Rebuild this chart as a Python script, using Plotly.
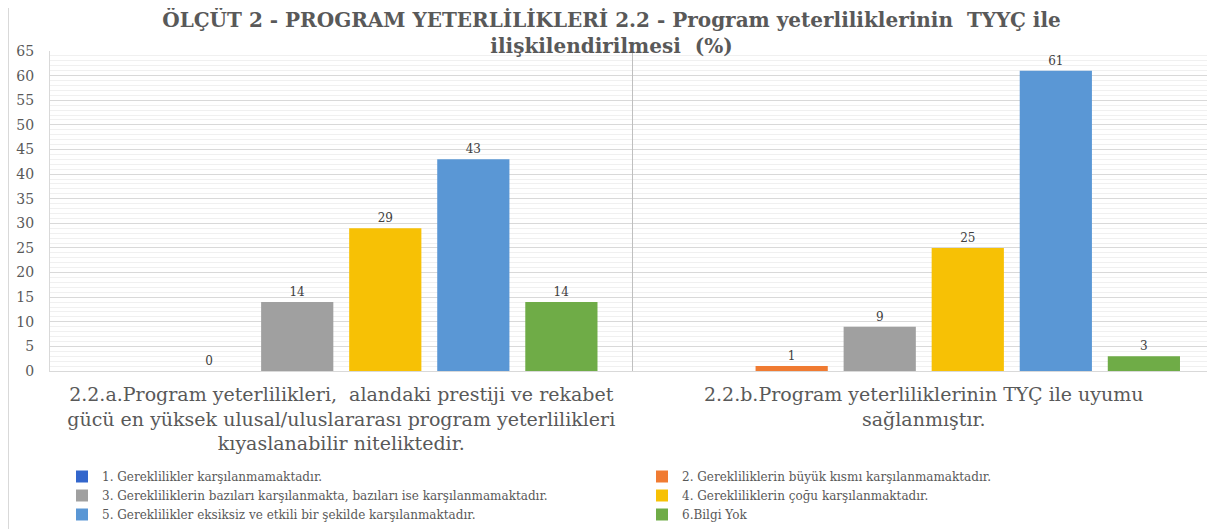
import plotly.graph_objects as go

categories = [
    "2.2.a.Program yeterlilikleri,  alandaki prestiji ve rekabet<br>gücü en yüksek ulusal/uluslararası program yeterlilikleri<br>kıyaslanabilir niteliktedir.",
    "2.2.b.Program yeterliliklerinin TYÇ ile uyumu<br>sağlanmıştır.",
]
series_names = [
    "1. Gereklilikler karşılanmamaktadır.",
    "2. Gerekliliklerin büyük kısmı karşılanmamaktadır.",
    "3. Gerekliliklerin bazıları karşılanmakta, bazıları ise karşılanmamaktadır.",
    "4. Gerekliliklerin çoğu karşılanmaktadır.",
    "5. Gereklilikler eksiksiz ve etkili bir şekilde karşılanmaktadır.",
    "6.Bilgi Yok",
]
s1 = [None, None]
s2 = [0, 1]
s3 = [14, 9]
s4 = [29, 25]
s5 = [43, 61]
s6 = [14, 3]
series_values = [s1, s2, s3, s4, s5, s6]
colors = ["#3366CC", "#F07B32", "#A0A0A0", "#F7C105", "#5A97D5", "#6FAC47"]
legend_ids = ["legend", "legend2", "legend", "legend2", "legend", "legend2"]

FONT = "DejaVu Serif"
GRAY = "#595959"
W, H = 1207, 521  # page body adds an 8px offset

fig = go.Figure()
for name, vals, col, lg in zip(series_names, series_values, colors, legend_ids):
    fig.add_trace(go.Bar(
        x=categories, y=vals, name=name,
        marker=dict(color=col, line=dict(width=0)),
        text=[None if v is None else str(v) for v in vals],
        textposition="outside", cliponaxis=False,
        textfont=dict(family=FONT, size=12, color="#404040"),
        legend=lg,
    ))

fig.update_layout(
    width=W, height=H,
    margin=dict(l=42, r=0, t=43, b=158, autoexpand=False),
    paper_bgcolor="white", plot_bgcolor="white",
    barmode="group", bargap=0.093, bargroupgap=0.18,
    font=dict(family=FONT, color=GRAY),
    title=dict(
        text="ÖLÇÜT 2 - PROGRAM YETERLİLİKLERİ 2.2 - Program yeterliliklerinin  TYYÇ ile<br>ilişkilendirilmesi  (%)",
        x=0.5, xanchor="center", y=1 - 19 / H, yanchor="top",
        font=dict(family=FONT, size=20, color=GRAY, weight="bold"),
    ),
    xaxis=dict(
        showgrid=False, showline=True, linecolor="#D9D9D9", linewidth=1,
        tickfont=dict(family=FONT, size=19, color=GRAY),
        tickangle=0, automargin=False,
        ticklabelstandoff=6,
    ),
    yaxis=dict(
        range=[0, 65], dtick=5, showgrid=True, gridcolor="#D9D9D9", gridwidth=1,
        minor=dict(dtick=1, showgrid=True, gridcolor="#F0F0F0", gridwidth=1),
        showline=True, linecolor="#D9D9D9", linewidth=1,
        tickfont=dict(family=FONT, size=14, color=GRAY),
        ticklabelstandoff=12, zeroline=False, automargin=False,
    ),
    legend=dict(
        orientation="v", xref="container", yref="container",
        x=54 / W, y=1 - 454 / H, xanchor="left", yanchor="top",
        font=dict(family=FONT, size=12, color=GRAY), itemwidth=30,
        bgcolor="rgba(0,0,0,0)", tracegroupgap=0,
    ),
    legend2=dict(
        orientation="v", xref="container", yref="container",
        x=634 / W, y=1 - 454 / H, xanchor="left", yanchor="top",
        font=dict(family=FONT, size=12, color=GRAY), itemwidth=30,
        bgcolor="rgba(0,0,0,0)", tracegroupgap=0,
    ),
    showlegend=True,
)

# category divider
fig.add_shape(type="line", xref="x", yref="paper", x0=0.5, x1=0.5, y0=0, y1=1,
              line=dict(color="#BFBFBF", width=1))
# chart area left border
fig.add_shape(type="line", xref="paper", yref="paper",
              x0=(0.5 - 42) / 1165, x1=(0.5 - 42) / 1165, y0=-0.6, y1=1.2,
              line=dict(color="#D9D9D9", width=1), layer="below")

fig.write_html("out.html")
